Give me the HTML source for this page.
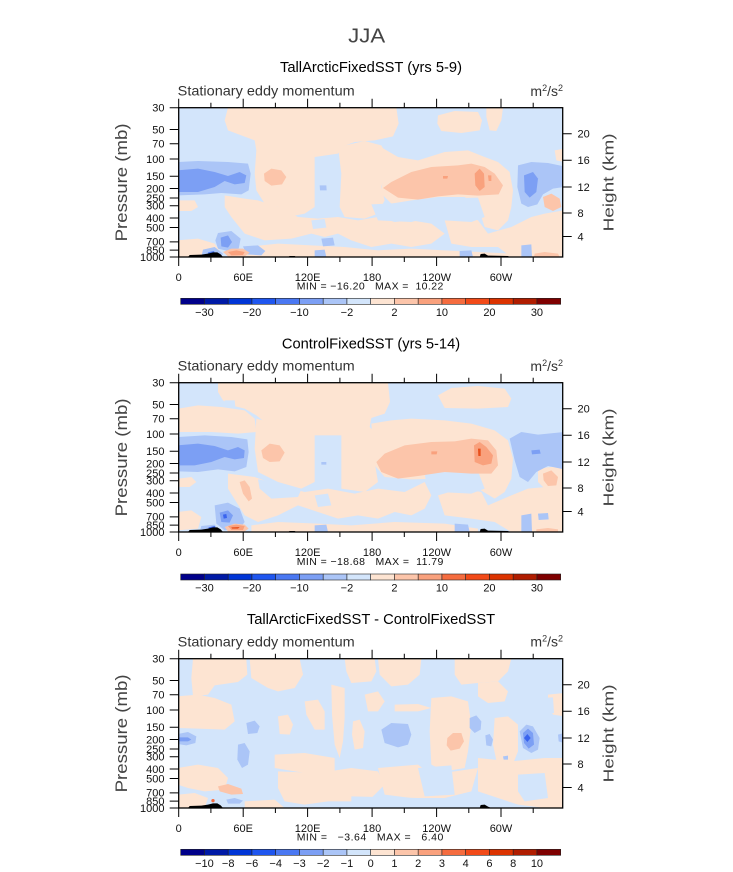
<!DOCTYPE html>
<html><head><meta charset="utf-8"><style>
html,body{margin:0;padding:0;background:#fff;}
svg{display:block;font-family:"Liberation Sans",Arial,sans-serif;}
</style></head><body>
<svg width="733" height="872" viewBox="0 0 733 872" xmlns="http://www.w3.org/2000/svg">
<defs>
<clipPath id="cf"><rect x="2" y="2" width="1152" height="448"/></clipPath>
<path id="ticks" fill="none" stroke="#000" stroke-width="1" d="M169.7 107.7H178.7M169.7 129.45H178.7M169.7 143.78H178.7M169.7 158.97H178.7M169.7 176.23H178.7M169.7 188.48H178.7M169.7 197.98H178.7M169.7 205.74H178.7M169.7 217.99H178.7M169.7 227.49H178.7M169.7 241.82H178.7M169.7 250.09H178.7M169.7 257H178.7
M562.7 133.7H571.7M562.7 160.2H571.7M562.7 187H571.7M562.7 213H571.7M562.7 236.5H571.7
M178.7 98.7V107.7M243.2 98.7V107.7M307.6 98.7V107.7M372.1 98.7V107.7M436.6 98.7V107.7M501 98.7V107.7
M210.9 102.7V107.7M275.4 102.7V107.7M339.9 102.7V107.7M404.3 102.7V107.7M468.8 102.7V107.7M533.2 102.7V107.7
M178.7 257V266M243.2 257V266M307.6 257V266M372.1 257V266M436.6 257V266M501 257V266
M210.9 257V262M275.4 257V262M339.9 257V262M404.3 257V262M468.8 257V262M533.2 257V262"/>
<g id="cbar" stroke="#222" stroke-width="0.6">
<rect x="180.7" y="0" width="23.75" height="6" fill="#00008a"/>
<rect x="204.45" y="0" width="23.75" height="6" fill="#001aa6"/>
<rect x="228.2" y="0" width="23.75" height="6" fill="#0035d6"/>
<rect x="251.95" y="0" width="23.75" height="6" fill="#1f56ef"/>
<rect x="275.7" y="0" width="23.75" height="6" fill="#4a78f2"/>
<rect x="299.45" y="0" width="23.75" height="6" fill="#7c9ff4"/>
<rect x="323.2" y="0" width="23.75" height="6" fill="#abc5f7"/>
<rect x="346.95" y="0" width="23.75" height="6" fill="#d3e5fb"/>
<rect x="370.7" y="0" width="23.75" height="6" fill="#fde4d2"/>
<rect x="394.45" y="0" width="23.75" height="6" fill="#fcc5aa"/>
<rect x="418.2" y="0" width="23.75" height="6" fill="#f9a17d"/>
<rect x="441.95" y="0" width="23.75" height="6" fill="#f56c3f"/>
<rect x="465.7" y="0" width="23.75" height="6" fill="#f24a18"/>
<rect x="489.45" y="0" width="23.75" height="6" fill="#dc3300"/>
<rect x="513.2" y="0" width="23.75" height="6" fill="#b01d00"/>
<rect x="536.95" y="0" width="23.75" height="6" fill="#7f0000"/>
</g>
</defs>

<text x="366.7" y="42.7" font-size="20" fill="#444" text-anchor="middle" textLength="37" lengthAdjust="spacingAndGlyphs">JJA</text>

<!-- ================= PANEL 1 ================= -->
<g transform="translate(178,107) scale(0.333333)" clip-path="url(#cf)">
<rect x="0" y="0" width="1160" height="455" fill="#d3e5fb"/>
<g fill="#fde4d2">
<polygon points="150,2 655,2 662,50 645,88 590,100 530,105 495,118 480,140 410,150 330,150 260,145 235,130 230,100 190,85 150,70 140,40"/>
<polygon points="235,130 410,140 410,300 380,320 330,330 300,300 260,290 235,250 230,200"/>
<polygon points="480,120 560,102 610,115 630,150 620,200 610,240 620,280 600,320 560,335 500,330 485,300 490,200"/>
<polygon points="600,115 660,150 720,160 800,135 870,130 920,150 960,165 995,195 1005,250 1000,300 990,340 960,370 920,360 900,300 860,270 780,270 700,280 640,290 610,260 615,200"/>
<polygon points="140,265 200,275 240,280 300,300 360,330 420,335 480,330 540,340 600,330 650,345 700,340 760,350 800,380 760,410 700,420 640,410 580,420 520,400 480,380 440,390 400,380 340,395 260,400 200,380 160,330 140,300"/>
<polygon points="800,340 850,320 900,340 930,380 1000,360 1060,330 1100,320 1158,310 1158,450 1000,450 960,420 880,420 820,410"/>
<polygon points="0,400 60,395 110,410 130,440 120,450 0,450"/>
<polygon points="200,420 300,410 400,415 500,420 600,430 700,425 800,430 1000,440 1000,450 200,450"/>
<polygon points="780,25 830,12 900,15 912,40 905,70 850,78 790,72 778,50"/>
<polygon points="925,2 975,2 970,40 955,72 935,70 925,30"/>
<polygon points="1130,130 1158,125 1158,165 1135,160"/>
<polygon points="0,280 50,280 60,300 40,312 0,312"/>
</g>
<g fill="#d3e5fb">
<polygon points="580,292 740,285 760,330 700,345 600,340"/>
<polygon points="760,275 900,272 920,330 880,345 800,340 762,320"/>
<polygon points="400,340 440,336 445,362 405,366"/>
</g>
<g fill="#abc5f7">
<polygon points="0,165 60,162 150,165 210,170 218,200 212,250 190,262 130,258 80,262 0,265"/>
<polygon points="1020,175 1060,165 1110,168 1158,178 1158,240 1125,245 1095,262 1078,292 1050,300 1030,290 1018,240"/>
<polygon points="120,378 160,372 188,395 182,425 150,432 120,425 112,400"/>
<polygon points="75,428 110,420 135,440 130,450 70,450"/>
<polygon points="195,418 240,415 262,432 250,445 205,442"/>
<polygon points="425,235 445,235 446,250 426,250"/>
<polygon points="410,430 440,428 445,450 410,450"/>
<polygon points="845,432 880,430 885,450 845,450"/>
<polygon points="1030,415 1060,412 1062,450 1030,450"/>
<polygon points="430,395 465,392 470,415 435,418"/>
</g>
<g fill="#7c9ff4">
<polygon points="0,190 60,185 110,195 150,207 185,195 205,205 200,228 170,232 140,222 110,240 60,255 0,255"/>
<polygon points="1038,205 1065,195 1080,215 1075,255 1055,272 1040,255"/>
<polygon points="128,392 150,385 162,405 150,422 130,418"/>
</g>
<polygon fill="#4a78f2" points="90,436 108,432 115,450 88,450"/>
<g fill="#fcc5aa">
<polygon points="615,243 640,225 700,195 760,180 840,175 880,170 920,180 950,200 975,235 962,262 900,266 840,262 780,268 720,278 660,272"/>
<polygon points="258,200 280,185 310,190 325,210 312,232 280,236 260,222"/>
<polygon points="1095,270 1120,260 1145,275 1150,300 1125,312 1100,300"/>
<polygon points="135,435 160,425 195,425 215,437 200,448 150,448"/>
<polygon points="1070,440 1100,435 1140,440 1145,450 1068,450"/>
</g>
<g fill="#f9a17d">
<polygon points="890,200 905,185 918,200 920,240 905,252 892,235"/>
<polygon points="795,207 810,207 808,215 795,215"/>
<polygon points="930,205 940,205 940,222 932,222"/>
<polygon points="150,435 175,430 200,435 195,444 160,445"/>
</g>
<g fill="#000">
<polygon points="30,450 35,444 70,443 90,440 105,436 118,436 128,442 135,450"/>
<polygon points="330,450 335,447 350,447 355,450"/>
<polygon points="905,450 908,441 920,440 930,446 990,447 995,450"/>
</g>
</g>
<rect x="178.7" y="107.7" width="384" height="149.3" fill="none" stroke="#000" stroke-width="1.3"/>
<use href="#ticks"/>

<text x="371" y="72" font-size="15" fill="#000" text-anchor="middle" textLength="182" lengthAdjust="spacingAndGlyphs">TallArcticFixedSST (yrs 5-9)</text>
<text x="177.7" y="95.7" font-size="14" fill="#333" textLength="177" lengthAdjust="spacingAndGlyphs">Stationary eddy momentum</text>
<text x="563" y="96" font-size="14" fill="#333" text-anchor="end">m<tspan dy="-5" font-size="9">2</tspan><tspan dy="5">/s</tspan><tspan dy="-5" font-size="9">2</tspan></text>
<g font-size="11" fill="#111" text-anchor="end">
<text x="164.5" y="111.5">30</text><text x="164.5" y="133.3">50</text><text x="164.5" y="147.6">70</text><text x="164.5" y="162.8">100</text><text x="164.5" y="180">150</text><text x="164.5" y="192.3">200</text><text x="164.5" y="201.8">250</text><text x="164.5" y="209.5">300</text><text x="164.5" y="221.8">400</text><text x="164.5" y="231.3">500</text><text x="164.5" y="245.6">700</text><text x="164.5" y="253.9">850</text><text x="164.5" y="260.8">1000</text>
</g>
<g font-size="11" fill="#111">
<text x="577.5" y="137.7">20</text><text x="577.5" y="164.2">16</text><text x="577.5" y="191">12</text><text x="577.5" y="217">8</text><text x="577.5" y="240.5">4</text>
</g>
<g font-size="11" fill="#111" text-anchor="middle">
<text x="178.7" y="281">0</text><text x="243.2" y="281">60E</text><text x="307.6" y="281">120E</text><text x="372.1" y="281">180</text><text x="436.6" y="281">120W</text><text x="501" y="281">60W</text>
</g>
<text x="296.7" y="289.3" font-size="10.5" fill="#111" xml:space="preserve" textLength="146.6" lengthAdjust="spacing">MIN = −16.20   MAX =  10.22</text>
<text transform="translate(127,182.4) rotate(-90)" font-size="16.5" fill="#444" text-anchor="middle" textLength="118" lengthAdjust="spacingAndGlyphs">Pressure (mb)</text>
<text transform="translate(613.5,182.4) rotate(-90)" font-size="14.5" fill="#444" text-anchor="middle" textLength="98" lengthAdjust="spacingAndGlyphs">Height (km)</text>
<use href="#cbar" transform="translate(0,298.3)"/>
<g font-size="11" fill="#111" text-anchor="middle">
<text x="204.45" y="316">−30</text><text x="251.95" y="316">−20</text><text x="299.45" y="316">−10</text><text x="346.95" y="316">−2</text><text x="394.45" y="316">2</text><text x="441.95" y="316">10</text><text x="489.45" y="316">20</text><text x="536.95" y="316">30</text>
</g>

<!-- ================= PANEL 2 ================= -->
<g transform="translate(178,382) scale(0.333333)" clip-path="url(#cf)">
<rect x="0" y="0" width="1160" height="455" fill="#d3e5fb"/>
<g fill="#fde4d2">
<polygon points="120,2 630,2 636,60 620,95 580,108 575,135 600,160 590,240 600,300 560,330 490,320 490,160 410,160 380,150 320,140 260,120 235,100 200,80 160,70 135,55 120,30"/>
<polygon points="0,80 60,70 130,75 200,85 230,110 235,150 180,155 100,150 0,150"/>
<polygon points="235,110 410,155 410,300 370,320 300,300 240,270 230,200"/>
<polygon points="780,40 820,18 900,12 980,20 1000,50 990,75 900,80 800,78"/>
<polygon points="580,125 640,115 700,110 800,115 880,125 950,145 990,175 1005,230 1000,290 980,330 950,350 900,320 860,285 780,290 700,292 620,285 590,250"/>
<polygon points="1080,260 1158,250 1158,330 1110,330 1080,300"/>
<polygon points="150,275 230,285 300,310 380,330 450,320 530,335 600,320 680,330 740,300 760,340 740,380 700,400 650,390 600,410 540,400 480,410 420,390 360,370 300,400 240,420 200,400 175,360 150,320"/>
<polygon points="780,340 850,320 910,330 930,370 1000,340 1050,320 1158,310 1158,450 1000,450 950,420 880,410 800,400"/>
<polygon points="220,430 300,420 420,425 520,430 650,420 800,425 900,440 900,450 220,450"/>
<polygon points="0,290 40,285 55,300 35,315 0,315"/>
<polygon points="0,390 40,385 70,405 60,440 0,445"/>
</g>
<g fill="#d3e5fb">
<polygon points="740,272 900,268 920,320 880,335 780,330 745,310"/>
<polygon points="240,292 300,302 370,322 360,345 280,350 245,320"/>
<polygon points="410,340 450,335 460,370 420,375"/>
<polygon points="140,55 170,55 172,75 142,75"/>
</g>
<g fill="#abc5f7">
<polygon points="0,165 80,160 160,165 208,172 212,210 205,255 170,268 120,262 60,270 0,268"/>
<polygon points="995,170 1030,150 1080,158 1158,150 1158,262 1110,252 1075,270 1050,300 1025,285 1010,235"/>
<polygon points="110,370 150,362 185,380 200,420 185,440 140,445 115,425"/>
<polygon points="70,432 110,428 125,450 65,450"/>
<polygon points="430,240 445,240 445,248 430,248"/>
<polygon points="410,430 445,428 450,450 410,450"/>
<polygon points="830,425 870,428 875,450 830,450"/>
<polygon points="1030,400 1060,395 1062,450 1030,450"/>
<polygon points="1080,395 1110,393 1112,412 1082,414"/>
</g>
<g fill="#7c9ff4">
<polygon points="0,190 60,185 110,192 150,205 180,195 200,205 198,228 170,232 140,225 100,240 50,250 0,250"/>
<polygon points="1060,205 1085,203 1088,215 1062,217"/>
<polygon points="125,392 150,385 165,400 155,422 130,420"/>
</g>
<g fill="#3a64ee">
<polygon points="135,398 145,396 147,408 137,410"/>
<polygon points="92,436 110,432 118,450 90,450"/>
</g>
<g fill="#fcc5aa">
<polygon points="595,240 620,215 680,190 760,180 830,178 880,170 930,175 955,205 960,250 940,275 880,275 800,270 720,282 660,290 610,270"/>
<polygon points="250,205 275,185 305,190 320,212 305,238 275,240 255,228"/>
<polygon points="1095,275 1120,265 1140,285 1135,310 1110,312 1097,295"/>
<polygon points="185,300 200,295 215,315 222,350 212,358 195,335"/>
<polygon points="140,435 170,425 200,428 212,440 200,448 150,448"/>
<polygon points="1075,442 1110,438 1140,442 1140,450 1075,450"/>
</g>
<g fill="#f9a17d">
<polygon points="888,190 905,180 925,195 945,220 940,245 915,250 890,240"/>
<polygon points="760,208 778,208 776,217 760,217"/>
<polygon points="150,432 175,428 200,432 195,444 160,444"/>
</g>
<g fill="#e8501c">
<polygon points="900,200 908,200 908,222 901,222"/>
<polygon points="160,436 185,435 180,440 162,440"/>
</g>
<g fill="#000">
<polygon points="30,450 35,444 70,443 90,440 105,436 118,436 128,442 135,450"/>
<polygon points="330,450 335,447 350,447 355,450"/>
<polygon points="905,450 908,441 920,440 930,446 990,447 995,450"/>
</g>
</g>
<rect x="178.7" y="382.7" width="384" height="149.3" fill="none" stroke="#000" stroke-width="1.3"/>
<use href="#ticks" transform="translate(0,275)"/>

<text x="371" y="348.3" font-size="15" fill="#000" text-anchor="middle" textLength="178.3" lengthAdjust="spacingAndGlyphs">ControlFixedSST (yrs 5-14)</text>
<text x="177.7" y="370.7" font-size="14" fill="#333" textLength="177" lengthAdjust="spacingAndGlyphs">Stationary eddy momentum</text>
<text x="563" y="371" font-size="14" fill="#333" text-anchor="end">m<tspan dy="-5" font-size="9">2</tspan><tspan dy="5">/s</tspan><tspan dy="-5" font-size="9">2</tspan></text>
<g font-size="11" fill="#111" text-anchor="end">
<text x="164.5" y="386.5">30</text><text x="164.5" y="408.3">50</text><text x="164.5" y="422.6">70</text><text x="164.5" y="437.8">100</text><text x="164.5" y="455">150</text><text x="164.5" y="467.3">200</text><text x="164.5" y="476.8">250</text><text x="164.5" y="484.5">300</text><text x="164.5" y="496.8">400</text><text x="164.5" y="506.3">500</text><text x="164.5" y="520.6">700</text><text x="164.5" y="528.9">850</text><text x="164.5" y="535.8">1000</text>
</g>
<g font-size="11" fill="#111">
<text x="577.5" y="412.7">20</text><text x="577.5" y="439.2">16</text><text x="577.5" y="466">12</text><text x="577.5" y="492">8</text><text x="577.5" y="515.5">4</text>
</g>
<g font-size="11" fill="#111" text-anchor="middle">
<text x="178.7" y="556">0</text><text x="243.2" y="556">60E</text><text x="307.6" y="556">120E</text><text x="372.1" y="556">180</text><text x="436.6" y="556">120W</text><text x="501" y="556">60W</text>
</g>
<text x="296.7" y="565" font-size="10.5" fill="#111" xml:space="preserve" textLength="146.6" lengthAdjust="spacing">MIN = −18.68   MAX =  11.79</text>
<text transform="translate(127,457.4) rotate(-90)" font-size="16.5" fill="#444" text-anchor="middle" textLength="118" lengthAdjust="spacingAndGlyphs">Pressure (mb)</text>
<text transform="translate(613.5,457.4) rotate(-90)" font-size="14.5" fill="#444" text-anchor="middle" textLength="98" lengthAdjust="spacingAndGlyphs">Height (km)</text>
<use href="#cbar" transform="translate(0,574)"/>
<g font-size="11" fill="#111" text-anchor="middle">
<text x="204.45" y="591.5">−30</text><text x="251.95" y="591.5">−20</text><text x="299.45" y="591.5">−10</text><text x="346.95" y="591.5">−2</text><text x="394.45" y="591.5">2</text><text x="441.95" y="591.5">10</text><text x="489.45" y="591.5">20</text><text x="536.95" y="591.5">30</text>
</g>

<!-- ================= PANEL 3 ================= -->
<g transform="translate(178,658) scale(0.333333)" clip-path="url(#cf)">
<rect x="0" y="0" width="1160" height="455" fill="#d3e5fb"/>
<g fill="#fde4d2">
<polygon points="45,2 205,2 208,50 180,72 110,82 90,110 45,115 40,60"/>
<polygon points="0,115 60,110 110,120 160,140 170,190 140,215 60,212 0,210"/>
<polygon points="215,2 365,2 375,50 350,90 300,100 270,90 220,60"/>
<polygon points="500,2 590,2 595,40 580,70 520,75 505,40"/>
<polygon points="600,2 730,2 725,50 690,80 640,85 605,50"/>
<polygon points="830,2 1000,2 990,40 960,70 900,75 850,80 830,50"/>
<polygon points="900,75 960,70 990,100 980,130 930,135 900,115"/>
<polygon points="380,130 420,125 440,160 440,215 410,215 385,170"/>
<polygon points="300,175 330,170 345,200 335,230 305,228"/>
<polygon points="460,80 500,90 500,180 495,250 485,300 470,260 462,170"/>
<polygon points="525,190 545,185 560,220 555,270 530,275 522,230"/>
<polygon points="560,110 600,100 620,130 600,160 570,160"/>
<polygon points="650,140 720,138 760,150 720,160 650,160"/>
<polygon points="760,120 820,115 870,130 880,200 870,280 860,330 800,340 760,320 755,220"/>
<polygon points="950,180 990,175 1020,200 1020,280 1000,330 960,330 945,260"/>
<polygon points="1110,110 1158,105 1158,175 1125,170 1110,140"/>
<polygon points="290,290 380,285 470,300 470,340 420,350 350,340 290,330"/>
<polygon points="0,330 60,320 120,330 150,360 140,395 80,400 30,390 0,380"/>
<polygon points="300,340 420,345 520,330 600,340 620,380 580,420 520,430 450,430 380,440 320,430 300,390"/>
<polygon points="600,330 720,320 760,350 830,340 900,330 880,400 800,420 700,420 620,410"/>
<polygon points="900,300 1000,310 1100,300 1158,300 1158,450 1100,450 1020,440 960,420 900,400"/>
<polygon points="0,410 50,405 90,420 80,450 0,450"/>
<polygon points="200,430 290,425 320,450 200,450"/>
</g>
<g fill="#d3e5fb">
<polygon points="1020,350 1100,345 1110,420 1040,430 1020,400"/>
<polygon points="720,330 820,322 830,410 740,415"/>
<polygon points="520,415 720,420 720,450 520,450"/>
<polygon points="1090,120 1125,118 1128,165 1092,165"/>
</g>
<g fill="#abc5f7">
<polygon points="0,228 30,222 55,235 52,255 25,262 0,258"/>
<polygon points="205,195 230,188 245,205 238,225 210,228"/>
<polygon points="180,260 200,255 215,280 210,320 192,330 178,305"/>
<polygon points="610,215 640,195 690,198 700,230 690,260 660,268 620,255"/>
<polygon points="875,180 895,172 910,190 908,215 890,225 875,210"/>
<polygon points="922,232 935,228 945,245 940,265 925,262"/>
<polygon points="1025,220 1045,200 1065,205 1085,240 1080,275 1060,285 1035,270"/>
<polygon points="1140,230 1158,225 1158,255 1142,250"/>
<polygon points="145,425 170,420 195,428 185,437 150,437"/>
<polygon points="975,295 990,293 990,305 977,305"/>
</g>
<g fill="#7c9ff4">
<polygon points="1035,225 1050,212 1065,225 1068,260 1052,272 1038,255"/>
<polygon points="0,238 30,238 40,245 30,250 0,250"/>
</g>
<polygon fill="#3a64ee" points="1048,228 1058,240 1048,252 1038,240"/>
<g fill="#fcc5aa">
<polygon points="808,240 825,225 850,225 858,250 845,272 818,278 806,262"/>
<polygon points="120,385 150,378 190,392 195,408 160,410 125,400"/>
</g>
<circle cx="105" cy="428" r="5" fill="#f56c3f"/>
<g fill="#000">
<polygon points="30,450 35,444 70,443 90,440 105,436 118,436 128,442 135,450"/>
<polygon points="905,450 908,441 920,440 930,446 940,450"/>
</g>
</g>
<rect x="178.7" y="658.7" width="384" height="149.3" fill="none" stroke="#000" stroke-width="1.3"/>
<use href="#ticks" transform="translate(0,551)"/>

<text x="371" y="624" font-size="15" fill="#000" text-anchor="middle" textLength="248.3" lengthAdjust="spacingAndGlyphs">TallArcticFixedSST - ControlFixedSST</text>
<text x="177.7" y="646.3" font-size="14" fill="#333" textLength="177" lengthAdjust="spacingAndGlyphs">Stationary eddy momentum</text>
<text x="563" y="646.6" font-size="14" fill="#333" text-anchor="end">m<tspan dy="-5" font-size="9">2</tspan><tspan dy="5">/s</tspan><tspan dy="-5" font-size="9">2</tspan></text>
<g font-size="11" fill="#111" text-anchor="end">
<text x="164.5" y="662.5">30</text><text x="164.5" y="684.3">50</text><text x="164.5" y="698.6">70</text><text x="164.5" y="713.8">100</text><text x="164.5" y="731">150</text><text x="164.5" y="743.3">200</text><text x="164.5" y="752.8">250</text><text x="164.5" y="760.5">300</text><text x="164.5" y="772.8">400</text><text x="164.5" y="782.3">500</text><text x="164.5" y="796.6">700</text><text x="164.5" y="804.9">850</text><text x="164.5" y="811.8">1000</text>
</g>
<g font-size="11" fill="#111">
<text x="577.5" y="688.7">20</text><text x="577.5" y="715.2">16</text><text x="577.5" y="742">12</text><text x="577.5" y="768">8</text><text x="577.5" y="791.5">4</text>
</g>
<g font-size="11" fill="#111" text-anchor="middle">
<text x="178.7" y="832">0</text><text x="243.2" y="832">60E</text><text x="307.6" y="832">120E</text><text x="372.1" y="832">180</text><text x="436.6" y="832">120W</text><text x="501" y="832">60W</text>
</g>
<text x="296.7" y="840.3" font-size="10.5" fill="#111" xml:space="preserve" textLength="146.6" lengthAdjust="spacing">MIN =   −3.64   MAX =   6.40</text>
<text transform="translate(127,733.4) rotate(-90)" font-size="16.5" fill="#444" text-anchor="middle" textLength="118" lengthAdjust="spacingAndGlyphs">Pressure (mb)</text>
<text transform="translate(613.5,733.4) rotate(-90)" font-size="14.5" fill="#444" text-anchor="middle" textLength="98" lengthAdjust="spacingAndGlyphs">Height (km)</text>
<use href="#cbar" transform="translate(0,849.3)"/>
<g font-size="11" fill="#111" text-anchor="middle">
<text x="204.45" y="867">−10</text><text x="228.2" y="867">−8</text><text x="251.95" y="867">−6</text><text x="275.7" y="867">−4</text><text x="299.45" y="867">−3</text><text x="323.2" y="867">−2</text><text x="346.95" y="867">−1</text><text x="370.7" y="867">0</text><text x="394.45" y="867">1</text><text x="418.2" y="867">2</text><text x="441.95" y="867">3</text><text x="465.7" y="867">4</text><text x="489.45" y="867">6</text><text x="513.2" y="867">8</text><text x="536.95" y="867">10</text>
</g>
</svg>
</body></html>
